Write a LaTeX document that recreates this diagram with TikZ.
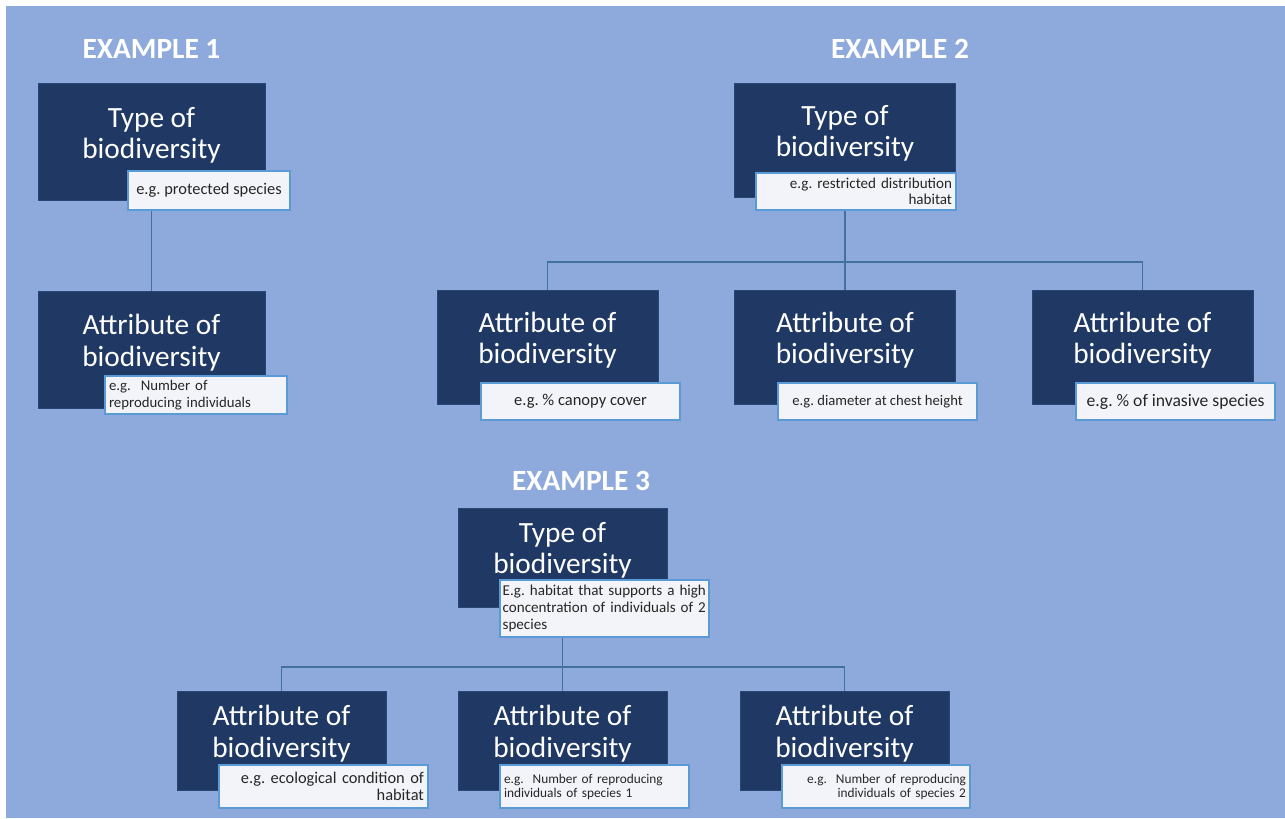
\documentclass[tikz,border=0pt]{standalone}
\usepackage{fontspec}
\setmainfont{Carlito}
\frenchspacing
\definecolor{bgblue}{HTML}{8EA9DB}
\definecolor{navy}{HTML}{1F3864}
\definecolor{edgeblue}{HTML}{5B9BD5}
\definecolor{linkblue}{HTML}{41719C}
\definecolor{notefill}{HTML}{F2F4F9}

\begin{document}
\begin{tikzpicture}[x=0.75pt,y=-0.75pt,
  title/.style={text=white,font=\fontsize{22}{26}\selectfont\bfseries},
  box/.style={fill=navy,draw=navy!85!edgeblue,line width=0.5pt,text=white,align=center,
    font=\fontsize{22}{23.5}\selectfont,text depth=14pt,inner sep=0pt},
  size1/.style={minimum width=170.25pt,minimum height=88pt},
  size2/.style={minimum width=165.5pt,minimum height=85.5pt},
  size3/.style={minimum width=156.75pt,minimum height=74.25pt},
  note/.style={fill=notefill,draw=edgeblue,line width=1.1pt,text=black!85,inner xsep=3pt,inner ysep=2pt},
  link/.style={draw=linkblue,line width=1.3pt}]
\useasboundingbox (0,0) rectangle (1285,818);
\fill[bgblue] (6,6) rectangle (1285,818);

\node[box,size1] (t1) at (151.5,142) {Type of\\biodiversity};
\node[box,size1] (a1) at (151.5,349.5) {Attribute of\\biodiversity};

\node[box,size2] (t2) at (845,140.5) {Type of\\biodiversity};
\node[box,size2] (a2a) at (547.5,347) {Attribute of\\biodiversity};
\node[box,size2] (a2b) at (845,347) {Attribute of\\biodiversity};
\node[box,size2] (a2c) at (1142.5,347) {Attribute of\\biodiversity};

\node[box,size3] (t3) at (562.5,557.5) {Type of\\biodiversity};
\node[box,size3] (a3a) at (281.5,740.5) {Attribute of\\biodiversity};
\node[box,size3] (a3b) at (562.5,740.5) {Attribute of\\biodiversity};
\node[box,size3] (a3c) at (844.5,740.5) {Attribute of\\biodiversity};

\coordinate (b2) at (845,262);
\coordinate (b3) at (562.5,667);
\draw[link] (t1) -- (a1);
\draw[link] (t2) -- (b2) -| (a2a);
\draw[link] (b2) -| (a2c);
\draw[link] (b2) -- (a2b);
\draw[link] (t3) -- (b3) -| (a3a);
\draw[link] (b3) -| (a3c);
\draw[link] (b3) -- (a3b);

\node[note,minimum width=121.5pt,minimum height=29.25pt,align=center,font=\fontsize{12.3}{13}\selectfont] (n1) at (209,190.5) {e.g. protected species};
\node[note,minimum height=28.5pt,text width=130.5pt,align=left,font=\fontsize{11.1}{12.75}\selectfont] (m1) at (196,395) {e.g.~ Number of\\reproducing individuals};

\node[note,minimum height=27.75pt,text width=144pt,align=right,font=\fontsize{11.3}{12}\selectfont] (n2) at (856,191.5) {e.g. restricted distribution\\habitat};
\node[note,minimum width=149.25pt,minimum height=27.75pt,align=center,font=\fontsize{12.4}{13}\selectfont] (m2a) at (580.5,401.5) {e.g. \% canopy cover};
\node[note,minimum width=149.25pt,minimum height=27.75pt,align=center,font=\fontsize{11}{12}\selectfont] (m2b) at (877.5,401.5) {e.g. diameter at chest height};
\node[note,minimum width=149.25pt,minimum height=27.75pt,align=center,font=\fontsize{13.2}{14}\selectfont] (m2c) at (1175.5,401.5) {e.g. \% of invasive species};

\node[note,minimum height=42.75pt,inner xsep=2pt,text width=152.75pt,align=left,font=\fontsize{11.3}{12.4}\selectfont] (n3) at (604.5,608.5) {E.g. habitat that supports a high\\concentration of individuals of 2\\species};
\node[note,minimum height=32.25pt,text width=150.75pt,align=right,font=\fontsize{12.3}{12.75}\selectfont] (m3a) at (323.5,786.5) {e.g. ecological condition of\\habitat};
\node[note,minimum height=32.25pt,text width=135.75pt,align=left,font=\fontsize{10}{10.5}\selectfont] (m3b) at (594.5,786.5) {e.g.~ Number of reproducing\\individuals of species 1};
\node[note,minimum height=32.25pt,text width=135pt,align=right,font=\fontsize{10}{10.5}\selectfont] (m3c) at (876,786.5) {e.g.~ Number of reproducing\\individuals of species 2};

\node[title] (e1) at (151.5,48.5) {EXAMPLE 1};
\node[title] (e2) at (900,48.5) {EXAMPLE 2};
\node[title] (e3) at (581,481) {EXAMPLE 3};
\end{tikzpicture}
\end{document}
